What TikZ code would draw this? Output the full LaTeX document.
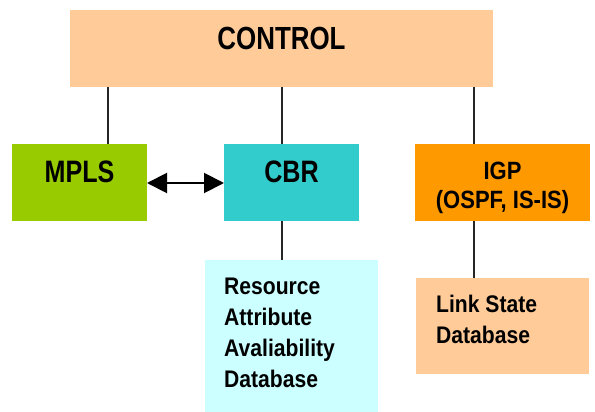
\documentclass[tikz,border=0pt]{standalone}
\usepackage{fontspec}
\setmainfont{Liberation Sans}
\newfontfamily\fbig[FakeStretch=0.81]{Liberation Sans}
\newfontfamily\fsmall[FakeStretch=0.88]{Liberation Sans}
\usetikzlibrary{arrows.meta}
\definecolor{cpeach}{HTML}{FFCC99}
\definecolor{cgreen}{HTML}{99CC00}
\definecolor{ccyan}{HTML}{33CCCC}
\definecolor{corange}{HTML}{FF9900}
\definecolor{clight}{HTML}{CCFFFF}
\begin{document}
\begin{tikzpicture}[x=1pt,y=-1pt,
  box/.style={draw=none,inner sep=0pt,outer sep=0pt},
  bigtxt/.style={inner sep=0pt,font=\fbig\bfseries\fontsize{31}{36}\selectfont},
  midtxt/.style={inner sep=0pt,font=\fsmall\bfseries\fontsize{25}{32}\selectfont},
  smalltxt/.style={inner sep=0pt,anchor=base west,font=\fsmall\bfseries\fontsize{24}{31}\selectfont},
  link/.style={draw=black!85,line width=1.2pt}]
\useasboundingbox (0,0) rectangle (595,412);
\fill[white] (0,0) rectangle (595,412);
% boxes
\node[box,fill=cpeach,minimum width=423pt,minimum height=77pt] (ctrl) at (281.5,48.5) {};
\node[box,fill=cgreen,minimum width=135pt,minimum height=77pt] (mpls) at (79.5,182.5) {};
\node[box,fill=ccyan,minimum width=135pt,minimum height=77pt] (cbr) at (291.5,182.5) {};
\node[box,fill=corange,minimum width=175pt,minimum height=77pt] (igp) at (502.5,182.5) {};
\node[box,fill=clight,minimum width=173pt,minimum height=152pt] (rad) at (291.5,336) {};
\node[box,fill=cpeach,minimum width=173pt,minimum height=96pt] (lsd) at (502.5,326) {};
% connectors
\coordinate (c1) at (108,87);
\coordinate (m1) at (108,144);
\coordinate (c2) at (282,87);
\coordinate (b1) at (282,144);
\coordinate (c3) at (474,87);
\coordinate (g1) at (474,144);
\coordinate (b2) at (282,221);
\coordinate (r1) at (282,260);
\coordinate (g2) at (474,221);
\coordinate (l1) at (474,278);
\draw[link] (c1) -- (m1);
\draw[link] (c2) -- (b1);
\draw[link] (c3) -- (g1);
\draw[link] (b2) -- (r1);
\draw[link] (g2) -- (l1);
\coordinate (a1) at (147,183);
\coordinate (a2) at (224,183);
\draw[line width=2pt,{Triangle[length=20pt,width=20pt]}-{Triangle[length=20pt,width=20pt]}] (a1) -- (a2);
% texts
\node[bigtxt,font=\fbig\bfseries\fontsize{32}{36}\selectfont] (tctrl) at (281.5,38.5) {CONTROL};
\node[bigtxt] (tmpls) at (79.5,172) {MPLS};
\node[bigtxt] (tcbr) at (291.5,172) {CBR};
\node[midtxt] (tigp1) at (502.5,171) {IGP};
\node[midtxt] (tigp2) at (502.5,202) {(OSPF, IS-IS)};
\node[smalltxt] (tr1) at (224,294) {Resource};
\node[smalltxt] (tr2) at (224,325) {Attribute};
\node[smalltxt] (tr3) at (224,356) {Avaliability};
\node[smalltxt] (tr4) at (224,387) {Database};
\node[smalltxt] (tl1) at (436,312) {Link State};
\node[smalltxt] (tl2) at (436,343) {Database};
\end{tikzpicture}
\end{document}
